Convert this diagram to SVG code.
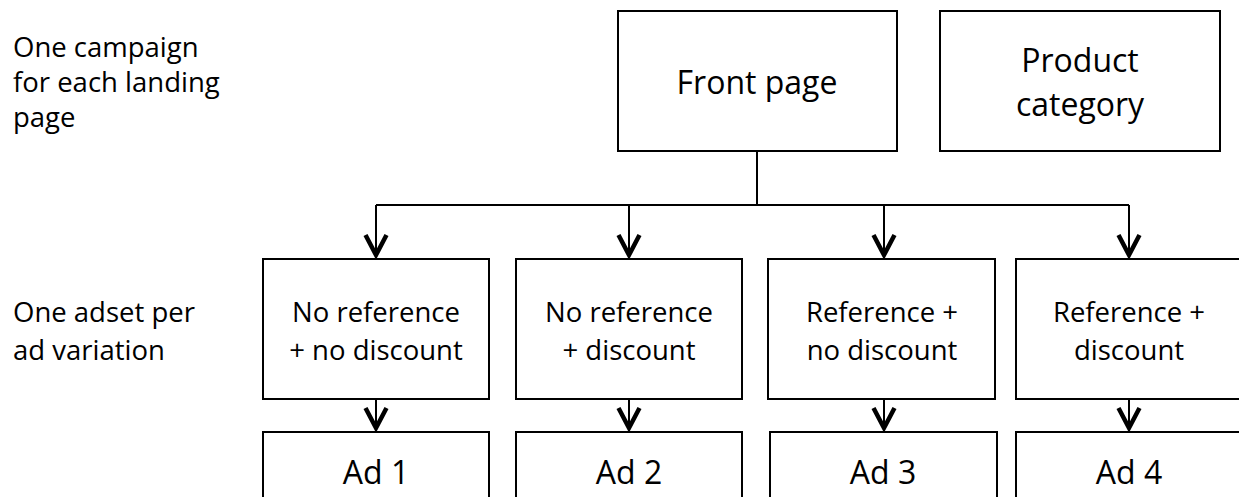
<svg xmlns="http://www.w3.org/2000/svg" width="1239" height="497" viewBox="0 0 1239 497">
<style>
.box{fill:#fff;stroke:#000;stroke-width:2}
.t{font-family:"Open Sans","Liberation Sans",sans-serif;fill:#000;text-anchor:middle}
.big{font-size:32px}
.mid{font-size:27.5px}
.lbl{font-family:"Open Sans","Liberation Sans",sans-serif;fill:#000;font-size:27.5px}
.c{fill:none;stroke:#000;stroke-width:2}
.a{fill:none;stroke:#000;stroke-width:2;marker-end:url(#arr)}
</style>
<defs>
<marker id="arr" markerUnits="userSpaceOnUse" orient="auto" markerWidth="30" markerHeight="30" refX="0" refY="0" overflow="visible">
<path d="M-20,-10.5 L0,0 L-20,10.5" fill="none" stroke="#000" stroke-width="4.5" stroke-linejoin="miter"/>
</marker>
</defs>
<rect width="1239" height="497" fill="#fff"/>
<g id="labels">
<text class="lbl" x="13" y="57">One campaign</text>
<text class="lbl" x="13" y="92">for each landing</text>
<text class="lbl" x="13" y="127">page</text>
<text class="lbl" x="13" y="322">One adset per</text>
<text class="lbl" x="13" y="360">ad variation</text>
</g>
<g id="connectors">
<path class="c" d="M757,151 V205 M376,205 H1129"/>
<path class="a" d="M376,205 V255"/>
<path class="a" d="M629,205 V255"/>
<path class="a" d="M884,205 V255"/>
<path class="a" d="M1129,205 V255"/>
<path class="a" d="M376,399 V428"/>
<path class="a" d="M629,399 V428"/>
<path class="a" d="M884,399 V428"/>
<path class="a" d="M1129,399 V428"/>
</g>
<g id="front-page">
<rect class="box" x="618" y="11" width="279" height="140"/>
<text class="t big" x="757" y="94">Front page</text>
</g>
<g id="product-category">
<rect class="box" x="940" y="11" width="280" height="140"/>
<text class="t big" x="1080" y="72">Product</text>
<text class="t big" x="1080" y="116">category</text>
</g>
<g id="adset1">
<rect class="box" x="263" y="259" width="226" height="140"/>
<text class="t mid" x="376" y="322">No reference</text>
<text class="t mid" x="376" y="360">+ no discount</text>
</g>
<g id="adset2">
<rect class="box" x="516" y="259" width="226" height="140"/>
<text class="t mid" x="629" y="322">No reference</text>
<text class="t mid" x="629" y="360">+ discount</text>
</g>
<g id="adset3">
<rect class="box" x="768" y="259" width="227" height="140"/>
<text class="t mid" x="882" y="322">Reference +</text>
<text class="t mid" x="882" y="360">no discount</text>
</g>
<g id="adset4">
<rect class="box" x="1016" y="259" width="226" height="140"/>
<text class="t mid" x="1129" y="322">Reference +</text>
<text class="t mid" x="1129" y="360">discount</text>
</g>
<g id="ad1">
<rect class="box" x="263" y="432" width="226" height="80"/>
<text class="t big" x="376" y="484">Ad 1</text>
</g>
<g id="ad2">
<rect class="box" x="516" y="432" width="226" height="80"/>
<text class="t big" x="629" y="484">Ad 2</text>
</g>
<g id="ad3">
<rect class="box" x="770" y="432" width="227" height="80"/>
<text class="t big" x="883" y="484">Ad 3</text>
</g>
<g id="ad4">
<rect class="box" x="1016" y="432" width="226" height="80"/>
<text class="t big" x="1129" y="484">Ad 4</text>
</g>
</svg>
